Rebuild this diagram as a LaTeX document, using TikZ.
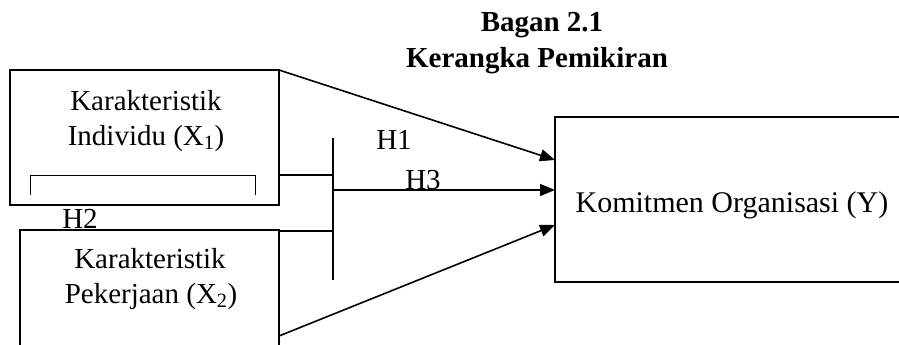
\documentclass[tikz,border=0pt]{standalone}
\usepackage{fontspec}
\setmainfont{Liberation Serif}
\usetikzlibrary{arrows.meta}

\tikzset{
  box/.style={draw, line width=1.6pt, inner sep=0pt, outer sep=0pt, rectangle},
  lbl/.style={anchor=base, inner sep=0pt, font=\fontsize{29}{35}\selectfont},
  ttl/.style={anchor=base, inner sep=0pt, font=\fontsize{29}{35}\selectfont\bfseries},
  link/.style={line width=1.6pt},
  arr/.style={line width=1.6pt, -{Triangle[length=15pt,width=12pt]}},
}

\begin{document}
\begin{tikzpicture}[x=1pt,y=-1pt]
\useasboundingbox (0,0) rectangle (899,345);
\clip (0,0) rectangle (899,345);

% title
\node[ttl] (t1) at (542,32) {Bagan 2.1};
\node[ttl] (t2) at (537,67) {Kerangka Pemikiran};

% boxes (the outcome box and the second box run past the page edge)
\node[box, minimum width=269pt, minimum height=135pt] (x1) at (144.5,137.5) {};
\node[box, minimum width=259pt, minimum height=130pt] (x2) at (149.5,295) {};
\node[box, minimum width=400pt, minimum height=165pt] (y) at (755,199.5) {};

% box texts
\node[lbl] (x1a) at (146,110) {Karakteristik};
\node[lbl] (x1b) at (146,145) {Individu (X\textsubscript{1})};
\node[lbl] (x2a) at (150,268) {Karakteristik};
\node[lbl] (x2b) at (151,303) {Pekerjaan (X\textsubscript{2})};
\node[lbl, font=\fontsize{30}{36}\selectfont] (yt) at (732,212) {Komitmen Organisasi (Y)};

% small bracket inside the first box
\draw[line width=0.8pt] (30,195) -- (30,175) -- (255,175) -- (255,195);

% junction bar
\coordinate (bartop) at (333,138);
\coordinate (barbot) at (333,280);
\coordinate (j1) at (333,175);
\coordinate (j2) at (333,231);
\coordinate (j3) at (333,190);
\draw[link] (bartop) -- (barbot);
\draw[link] (x1.east |- j1) -- (j1);
\draw[link] (x2.east |- j2) -- (j2);

% arrows into the outcome box
\coordinate (e1) at (y.west |- 0,160);
\coordinate (e3) at (y.west |- 0,190);
\coordinate (e2) at (y.west |- 0,225);
\coordinate (s2) at (x2.east |- 0,336);
\draw[arr] (x1.north east) -- (e1);
\draw[arr] (j3) -- (e3);
\draw[arr] (s2) -- (e2);

% hypothesis labels
\node[lbl] (h1) at (394,149) {H1};
\node[lbl] (h3) at (423,189) {H3};
\node[lbl] (h2) at (80,228) {H2};
\end{tikzpicture}
\end{document}
